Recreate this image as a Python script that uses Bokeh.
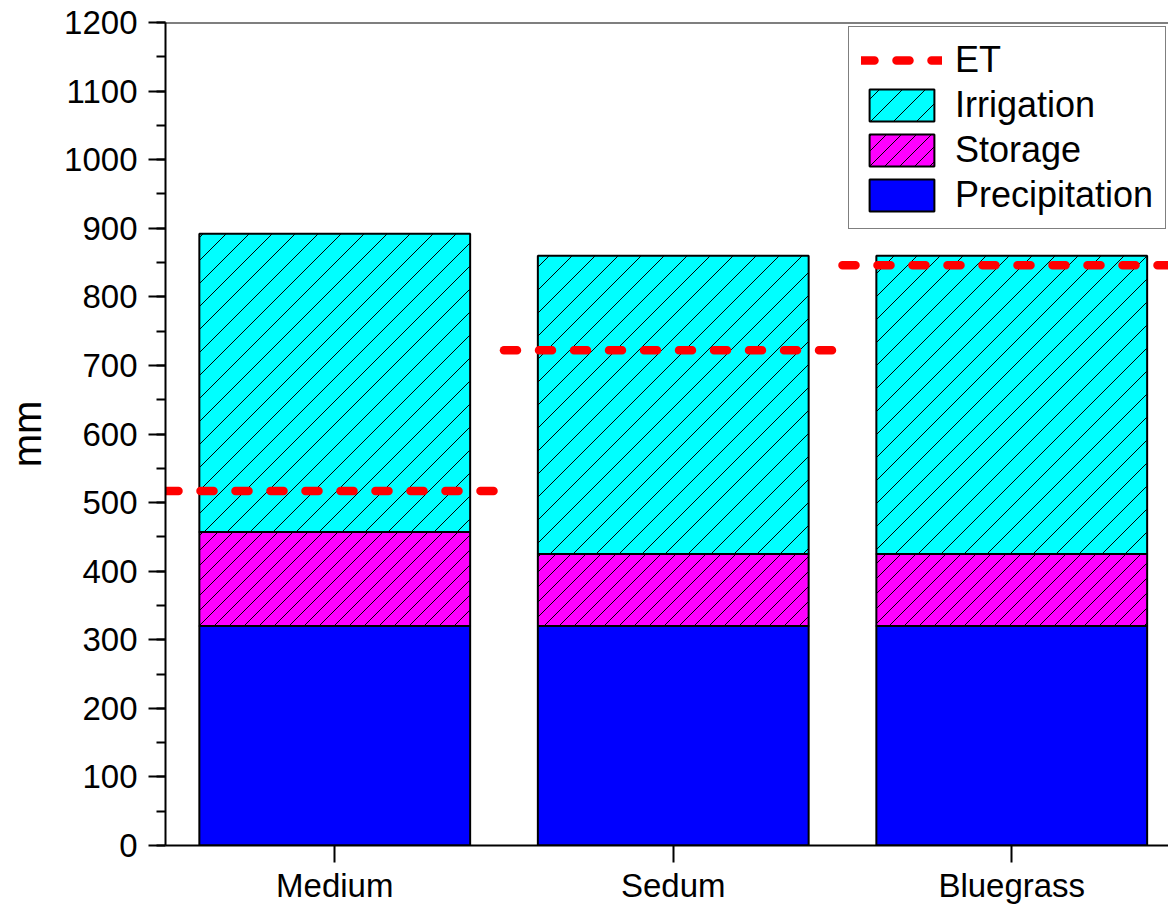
import base64
from bokeh.plotting import figure
from bokeh.models import (Range1d, SingleIntervalTicker, FixedTicker, Legend,
                          LegendItem, Span, ColumnDataSource, ImageURLTexture)
from bokeh.core.properties import value
from bokeh.embed import file_html
from bokeh.resources import INLINE

# ---- data ----
categories = ["Medium", "Sedum", "Bluegrass"]
precipitation = [320, 320, 320]
storage = [137, 105, 105]
irrigation = [435, 435, 435]
et = [517, 722, 846]
y_max = 1200
y_step = 100

FONT = "Liberation Sans"

xpos = [i + 1 for i in range(len(categories))]
src = ColumnDataSource(dict(x=xpos, Precipitation=precipitation,
                            Storage=storage, Irrigation=irrigation))
et_src = ColumnDataSource(dict(x0=[x - 0.5 for x in xpos],
                               x1=[x + 0.5 for x in xpos], y=et))


def diag_texture(s):
    svg = (f"<svg xmlns='http://www.w3.org/2000/svg' width='{s}' height='{s}'>"
           f"<path d='M0 {s} L{s} 0 M-2 2 L2 -2 M{s-2} {s+2} L{s+2} {s-2}' "
           f"stroke='black' stroke-width='1'/></svg>")
    url = "data:image/svg+xml;base64," + base64.b64encode(svg.encode()).decode()
    return ImageURLTexture(url=url, repetition="repeat")


frame_w = 1003
px_per_cat = 338.5
p = figure(width=1168, height=906, output_backend="svg", toolbar_location=None,
           x_range=Range1d(0.5, 0.5 + frame_w / px_per_cat),
           y_range=Range1d(0, y_max),
           min_border_left=165, min_border_right=0, min_border_top=22,
           min_border_bottom=60)
p.outline_line_color = None
p.grid.visible = False
p.background_fill_color = "white"

bars = p.vbar_stack(["Precipitation", "Storage", "Irrigation"], x="x", width=0.8,
                    source=src,
                    fill_color=["#0000FF", "#FF00FF", "#00FFFF"],
                    line_color="black", line_width=2,
                    hatch_pattern=[" ", value("diag15"), value("diag23")],
                    hatch_extra={"diag15": diag_texture(15),
                                 "diag23": diag_texture(23)},
                    hatch_color="black", hatch_weight=1)

et_r = p.segment(x0="x0", y0="y", x1="x1", y1="y", source=et_src,
                 line_color="#FF0000", line_width=8.5, line_dash="13 22",
                 line_cap="round")

# top border of the frame
p.add_layout(Span(location=y_max, dimension="width", line_color="black",
                  line_width=2))

# y axis
ya = p.yaxis[0]
ya.ticker = SingleIntervalTicker(interval=y_step, num_minor_ticks=2)
ya.axis_label = "mm"
ya.axis_label_text_font = FONT
ya.axis_label_text_font_size = "40px"
ya.axis_label_text_font_style = "normal"
ya.axis_label_text_color = "black"
ya.axis_label_standoff = 12
ya.major_label_text_font = FONT
ya.major_label_text_font_size = "33px"
ya.major_label_standoff = 11
ya.major_tick_out = 17
ya.major_tick_in = 0
ya.minor_tick_out = 9
ya.minor_tick_in = 0
ya.axis_line_width = 2
ya.major_tick_line_width = 2
ya.minor_tick_line_width = 2
ya.axis_line_color = "black"
ya.major_tick_line_color = "black"
ya.minor_tick_line_color = "black"
ya.major_label_text_color = "black"

# x axis
xa = p.xaxis[0]
xa.ticker = FixedTicker(ticks=xpos)
xa.major_label_overrides = {x: c for x, c in zip(xpos, categories)}
xa.major_label_text_font = FONT
xa.major_label_text_font_size = "33px"
xa.major_label_standoff = 4
xa.major_tick_out = 17
xa.major_tick_in = 0
xa.minor_tick_line_color = None
xa.axis_line_width = 2
xa.major_tick_line_width = 2
xa.axis_line_color = "black"
xa.major_tick_line_color = "black"
xa.major_label_text_color = "black"

legend = Legend(items=[
    LegendItem(label="ET", renderers=[et_r]),
    LegendItem(label="Irrigation", renderers=[bars[2]]),
    LegendItem(label="Storage", renderers=[bars[1]]),
    LegendItem(label="Precipitation", renderers=[bars[0]]),
], location=(683, 616), glyph_width=81, glyph_height=40, label_height=40,
    spacing=3, padding=12, label_standoff=13, margin=0,
    label_text_font=FONT, label_text_font_size="36px",
    label_text_color="black",
    border_line_color="black", border_line_width=1,
    background_fill_color="white", background_fill_alpha=1.0)
p.add_layout(legend, "center")

open("out.html", "w").write(file_html(p, INLINE))
